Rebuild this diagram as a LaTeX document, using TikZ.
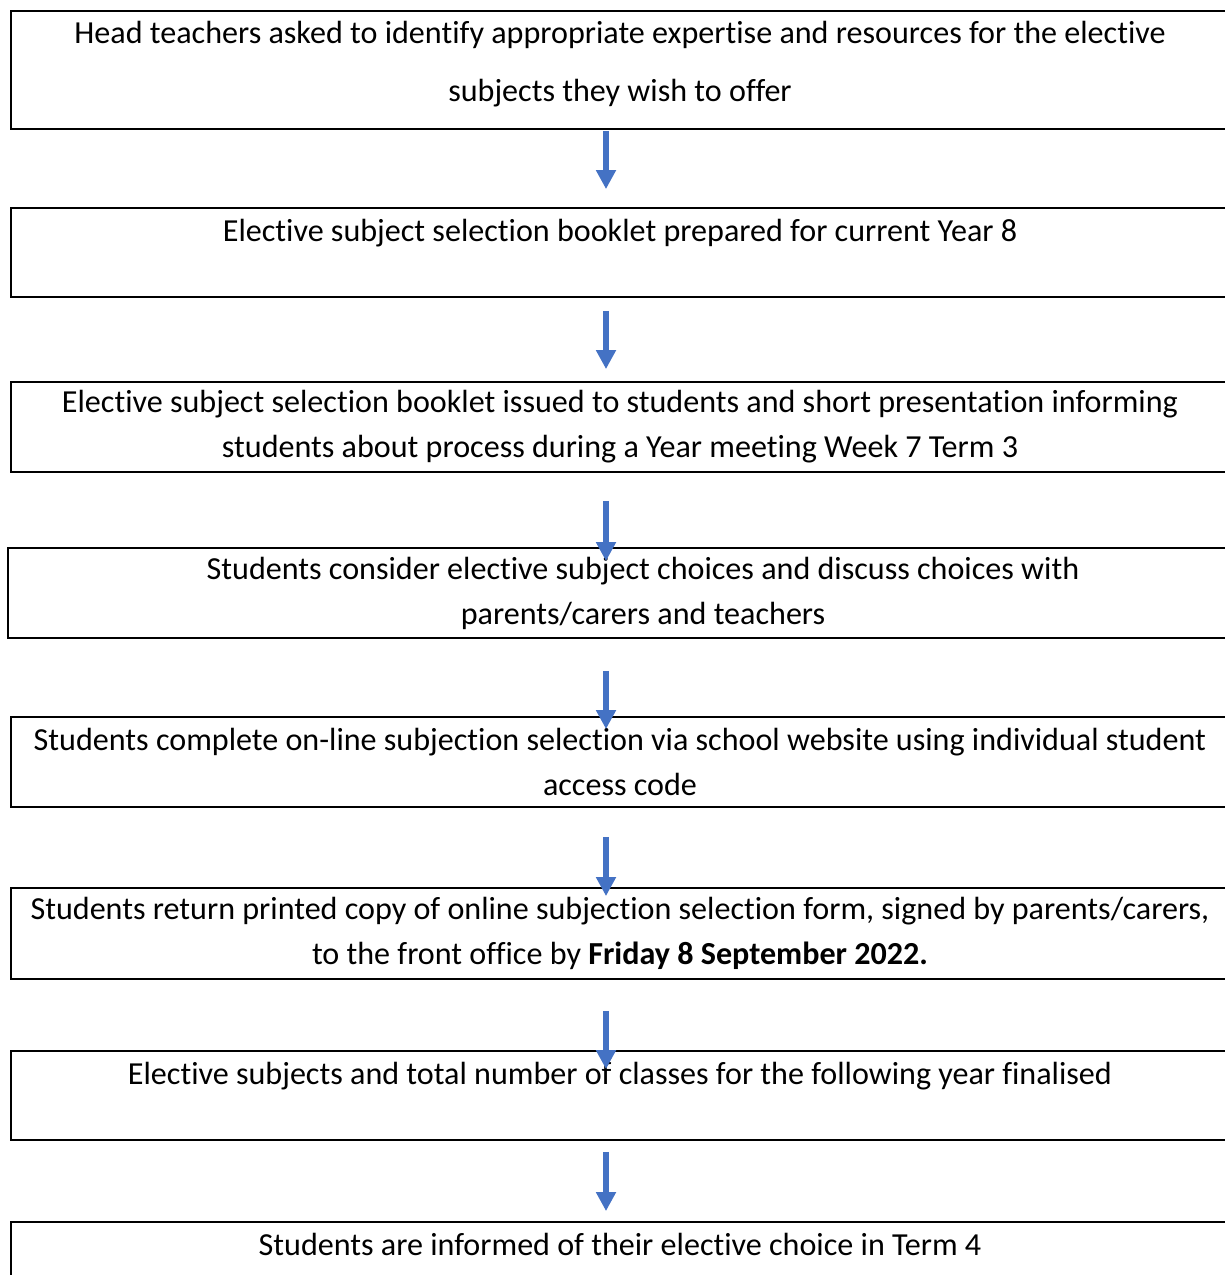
\documentclass[tikz,border=0pt]{standalone}
\usepackage{fontspec}
\setmainfont[Ligatures=NoCommon]{Carlito}
\usetikzlibrary{arrows.meta}

\definecolor{flowblue}{HTML}{4472C4}

\tikzset{
  stepbox/.style={draw=black, line width=1.8pt, rectangle, inner sep=0pt,
    align=center, minimum width=1218pt,
    font=\fontsize{32.1}{45}\selectfont},
  flowarrow/.style={draw=flowblue, line width=6pt,
    -{Triangle[width=19pt,length=19pt]}}
}

\begin{document}
\begin{tikzpicture}[x=1pt,y=-1pt]

      \useasboundingbox (0,0) rectangle (1225,1275);

      \begin{scope}[every node/.style={stepbox}]
        \node[minimum height=118pt, font=\fontsize{32.1}{58}\selectfont] (b1) at (620,70)
          {Head teachers asked to identify appropriate expertise and resources for the elective\\
           subjects they wish to offer\rule[-18pt]{0pt}{18pt}};
        \node[minimum height=89pt] (b2) at (620,252.5)
          {Elective subject selection booklet prepared for current Year 8\\ \mbox{}};
        \node[minimum height=90pt] (b3) at (620,427)
          {Elective subject selection booklet issued to students and short presentation informing\\
           students about process during a Year meeting Week 7 Term 3};
        \node[minimum height=90pt, minimum width=1270pt] (b4) at (643,593)
          {Students consider elective subject choices and discuss choices with\\
           parents/carers and teachers};
        \node[minimum height=90pt] (b5) at (620,762)
          {Students complete on-line subjection selection via school website using individual student\\
           access code};
        \node[minimum height=91pt] (b6) at (620,933.5)
          {Students return printed copy of online subjection selection form, signed by parents/carers,\\
           to the front office by \textbf{Friday 8 September 2022.}};
        \node[minimum height=89pt] (b7) at (620,1095.5)
          {Elective subjects and total number of classes for the following year finalised\\ \mbox{}};
        \node[minimum height=90pt] (b8) at (620,1267)
          {Students are informed of their elective choice in Term 4\\ \mbox{}};
      \end{scope}

      \coordinate (ax) at (606,0);

      \draw[flowarrow, shorten <=1pt, shorten >=18pt]   (b1.south -| ax) -- (b2.north -| ax);
      \draw[flowarrow, shorten <=13pt, shorten >=12pt]  (b2.south -| ax) -- (b3.north -| ax);
      \draw[flowarrow, shorten <=28pt, shorten >=-14pt] (b3.south -| ax) -- (b4.north -| ax);
      \draw[flowarrow, shorten <=32pt, shorten >=-13pt] (b4.south -| ax) -- (b5.north -| ax);
      \draw[flowarrow, shorten <=29pt, shorten >=-9pt]  (b5.south -| ax) -- (b6.north -| ax);
      \draw[flowarrow, shorten <=31pt, shorten >=-19pt] (b6.south -| ax) -- (b7.north -| ax);
      \draw[flowarrow, shorten <=11pt, shorten >=10pt]  (b7.south -| ax) -- (b8.north -| ax);

    \end{tikzpicture}
\end{document}
